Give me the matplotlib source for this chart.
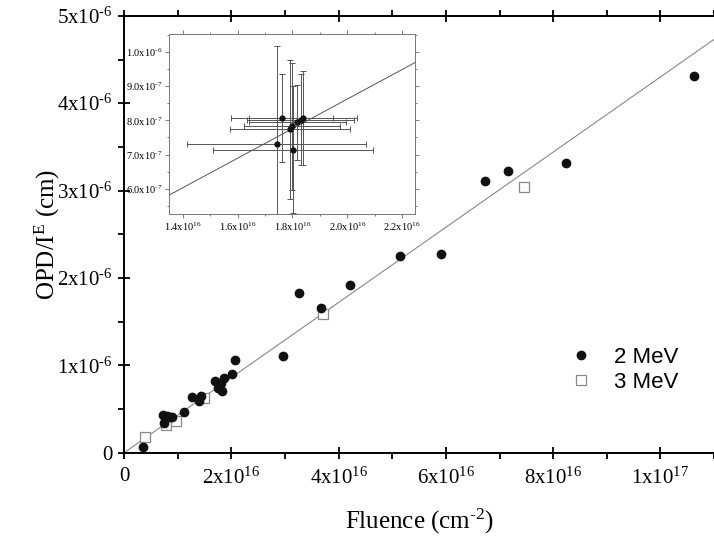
import matplotlib
matplotlib.use("Agg")
import numpy as np
import matplotlib.pyplot as plt
from matplotlib.ticker import FixedLocator, MultipleLocator

plt.rcParams['font.family'] = ['Liberation Serif', 'DejaVu Serif']
plt.rcParams['mathtext.fontset'] = 'custom'
plt.rcParams['mathtext.rm'] = 'Liberation Serif'
plt.rcParams['mathtext.it'] = 'Liberation Serif'
plt.rcParams['mathtext.default'] = 'regular'

# 2 MeV (filled circles)
x_2mev = [0.354, 0.728, 0.79, 0.853, 0.90, 0.74, 1.114, 1.269, 1.40, 1.44,
          1.692, 1.754, 1.804, 1.828, 1.866, 2.01, 2.065, 2.955, 3.254, 3.67,
          4.216, 5.144, 5.909, 6.73, 7.165, 8.24, 10.63]
y_2mev = [0.065, 0.432, 0.42, 0.413, 0.405, 0.337, 0.463, 0.638, 0.592, 0.653,
          0.821, 0.745, 0.795, 0.707, 0.859, 0.905, 1.062, 1.104, 1.833, 1.654,
          1.921, 2.253, 2.276, 3.104, 3.227, 3.315, 4.307]

# 3 MeV (open squares)
x_3mev = [0.386, 0.778, 0.959, 1.487, 3.70, 7.457]
y_3mev = [0.176, 0.317, 0.367, 0.623, 1.585, 3.04]

# linear fit through origin (cm^3)
slope = 4.3e-23

# inset data (x in 1e16 cm^-2, y in 1e-7 cm)
x_in = [1.762, 1.742, 1.791, 1.799, 1.802, 1.817, 1.830, 1.839]
y_in = [8.08, 7.32, 7.74, 7.83, 7.15, 7.94, 8.02, 8.06]
xerr_in = [0.185, 0.327, 0.220, 0.174, 0.293, 0.177, 0.194, 0.196]
yerr_in = [1.28, 2.84, 2.02, 1.85, 1.85, 1.09, 1.32, 1.37]
slope_in = 4.31e-23

x_ticks = [0, 2e16, 4e16, 6e16, 8e16, 1e17]
x_ticklabels = ['0', '2x10$^{16}$', '4x10$^{16}$', '6x10$^{16}$', '8x10$^{16}$', '1x10$^{17}$']
y_ticks = [0, 1e-6, 2e-6, 3e-6, 4e-6, 5e-6]
y_ticklabels = ['0', '1x10$^{\\text{-6}}$', '2x10$^{\\text{-6}}$', '3x10$^{\\text{-6}}$',
                '4x10$^{\\text{-6}}$', '5x10$^{\\text{-6}}$']

in_x_ticks = [1.4e16, 1.6e16, 1.8e16, 2.0e16, 2.2e16]
in_x_ticklabels = ['1.4x10$^{16}$', '1.6x10$^{16}$', '1.8x10$^{16}$', '2.0x10$^{16}$', '2.2x10$^{16}$']
in_y_ticks = [6e-7, 7e-7, 8e-7, 9e-7, 1e-6]
in_y_ticklabels = ['6.0x10$^{\\text{-7}}$', '7.0x10$^{\\text{-7}}$', '8.0x10$^{\\text{-7}}$',
                   '9.0x10$^{\\text{-7}}$', '1.0x10$^{\\text{-6}}$']

fig = plt.figure(figsize=(7.14, 5.46), dpi=100)
ax = fig.add_axes([0.174, 0.171, 0.826, 0.800])

xmax = 1.1e17
xx = np.array([0, xmax])
ax.plot(xx, slope * xx, color='#888888', lw=0.8, zorder=1)
ax.plot(np.array(x_2mev) * 1e16, np.array(y_2mev) * 1e-6, 'o', color='#111111',
        ms=6, label='2 MeV', zorder=3)
ax.plot(np.array(x_3mev) * 1e16, np.array(y_3mev) * 1e-6, 's', mfc='white',
        mec='#888888', mew=0.9, ms=7, label='3 MeV', zorder=2)

ax.set_xlim(0, xmax)
ax.set_ylim(0, 5e-6)
ax.xaxis.set_major_locator(FixedLocator(x_ticks))
ax.set_xticklabels(x_ticklabels)
ax.yaxis.set_major_locator(FixedLocator(y_ticks))
ax.set_yticklabels(y_ticklabels)
ax.xaxis.set_minor_locator(MultipleLocator(1e16))
ax.yaxis.set_minor_locator(MultipleLocator(0.5e-6))
ax.tick_params(which='major', direction='inout', length=9, width=1.3, labelsize=15,
               top=True, right=False, pad=4)
ax.tick_params(which='minor', direction='out', length=4, width=1.3, top=True, right=False)
ax.tick_params(axis='x', pad=6)
for s in ['left', 'bottom', 'top']:
    ax.spines[s].set_linewidth(1.4)
ax.spines['right'].set_visible(False)

ax.set_xlabel('Fluence (cm$^{\\text{-2}}$)', fontsize=18, labelpad=13)
ax.set_ylabel('OPD/I$^{E}$ (cm)', fontsize=18, labelpad=-4)

leg = ax.legend(loc='upper left', bbox_to_anchor=(0.736, 0.268), frameon=False,
                prop={'family': 'Liberation Sans', 'size': 16}, handletextpad=1.0,
                labelspacing=0.2, borderpad=0, handlelength=1.0)

# inset
axi = fig.add_axes([0.237, 0.608, 0.344, 0.330])
xi = np.array([1.351e16, 2.246e16])
axi.plot(xi, slope_in * xi, color='#555555', lw=0.7, zorder=1)
axi.errorbar(np.array(x_in) * 1e16, np.array(y_in) * 1e-7,
             xerr=np.array(xerr_in) * 1e16, yerr=np.array(yerr_in) * 1e-7,
             fmt='o', color='#111111', ms=3.5, ecolor='#555555', elinewidth=0.7,
             capsize=2, capthick=0.7, zorder=3)
axi.set_xlim(1.351e16, 2.246e16)
axi.set_ylim(5.27e-7, 10.52e-7)
axi.xaxis.set_major_locator(FixedLocator(in_x_ticks))
axi.set_xticklabels(in_x_ticklabels)
axi.yaxis.set_major_locator(FixedLocator(in_y_ticks))
axi.set_yticklabels(in_y_ticklabels)
axi.xaxis.set_minor_locator(MultipleLocator(0.1e16))
axi.yaxis.set_minor_locator(MultipleLocator(0.5e-7))
axi.tick_params(which='both', direction='out', top=True, right=True, width=0.6,
                color='#666666', labelsize=7.5, pad=2)
axi.tick_params(which='major', length=3)
axi.tick_params(which='minor', length=1.5)
for s in axi.spines.values():
    s.set_linewidth(0.7)
    s.set_color('#777777')

fig.savefig('out.png', dpi=100)
